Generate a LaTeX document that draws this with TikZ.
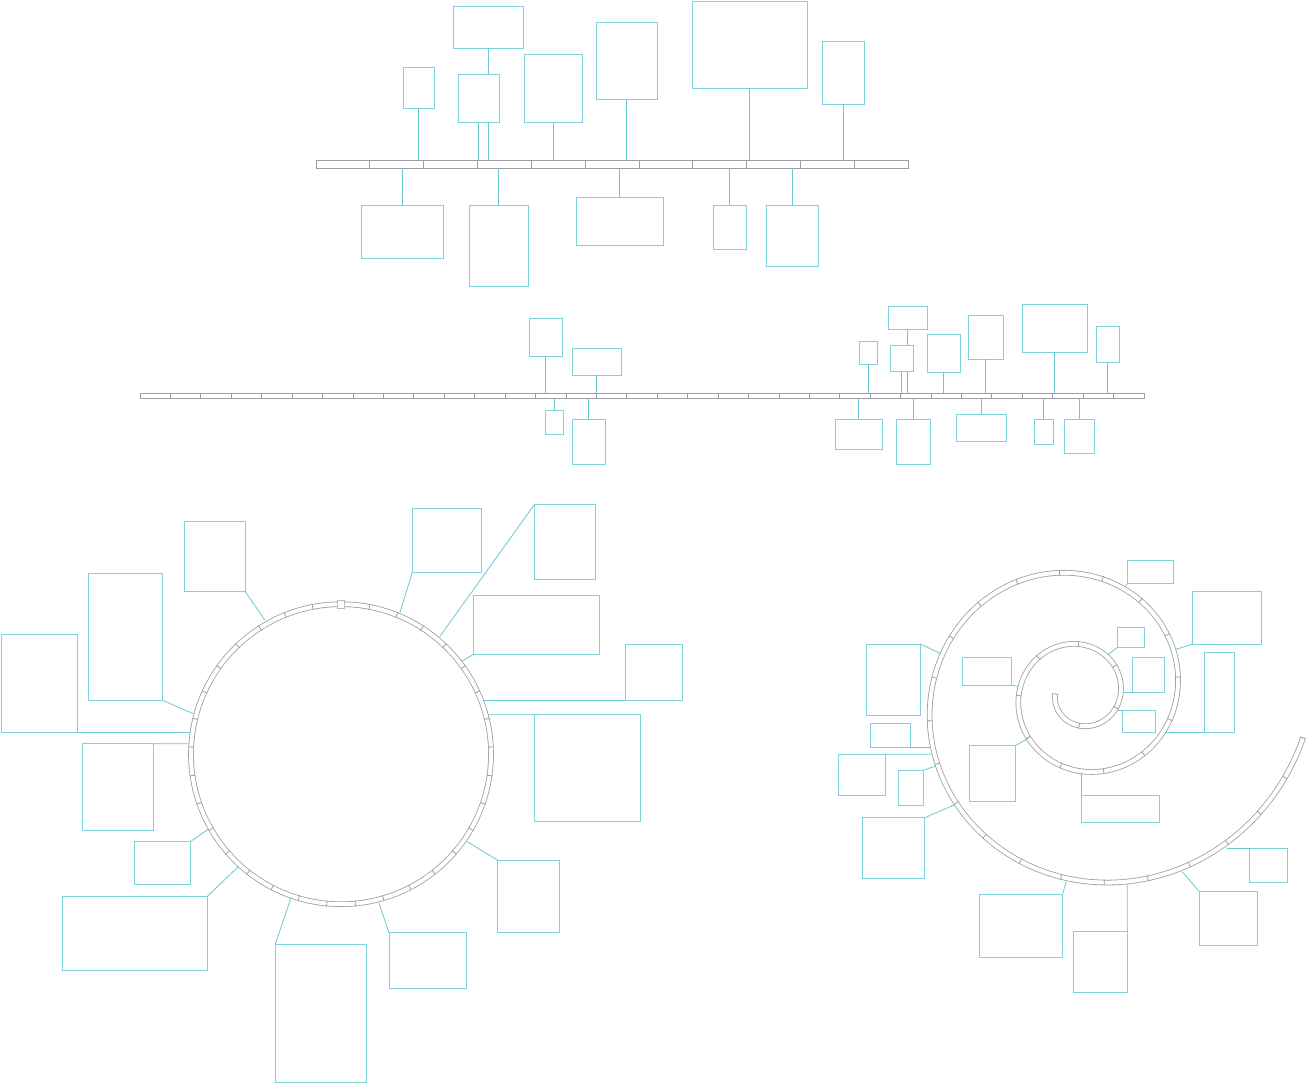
\documentclass[tikz,border=0pt]{standalone}
\usetikzlibrary{fit}
\definecolor{cy}{RGB}{128,211,220}
\definecolor{cyc}{RGB}{104,200,211}
\definecolor{rg}{RGB}{158,158,158}
\tikzset{
  box/.style={draw=cy, line width=0.7pt, inner sep=0pt, outer sep=0pt},
  conn/.style={draw=cyc, line width=0.6pt},
  seg/.style={draw=rg, line width=0.6pt, fill=white},
  ring/.style={draw=rg, line width=0.6pt, double=white, double distance=3pt},
  tickline/.style={draw=rg, line width=0.6pt},
  anchorbox/.style={inner sep=0pt, outer sep=0pt},
}
\newcommand\bx[5]{\node[box, fit={(#2,#3) (#4,#5)}] (#1) {};}
\begin{document}
\begin{tikzpicture}[x=0.75pt,y=-0.75pt]
\useasboundingbox (0,0) rectangle (1308,1084);

% ---------------- top timeline ----------------
\foreach \i in {0,...,10} \draw[seg] ({316+\i*53.8182},160) rectangle ({316+(\i+1)*53.8182},168);
\node[anchorbox, fit={(316,160) (908,168)}] (barA) {};
\bx{a1}{403}{67}{434}{108}
\bx{a2}{453}{6}{523}{48}
\bx{a3}{458}{74}{499}{122}
\bx{a4}{524}{54}{582}{122}
\bx{a5}{596}{22}{657}{99}
\bx{a6}{692}{1}{807}{88}
\bx{a7}{822}{41}{864}{104}
\bx{a8}{361}{205}{443}{258}
\bx{a9}{469}{205}{528}{286}
\bx{a10}{576}{197}{663}{245}
\bx{a11}{713}{205}{746}{249}
\bx{a12}{766}{205}{818}{266}
\foreach \n in {a1,a4,a5,a6,a7,a3} \draw[conn] (\n.south) -- (\n.south |- barA.north);
\draw[conn] (a2.south) -- (a2.south |- a3.north);
\draw[conn] (a2.south |- a3.south) -- (a2.south |- barA.north);
\foreach \n in {a8,a9,a10,a11,a12} \draw[conn] (\n.north) -- (\n.north |- barA.south);

% ---------------- second timeline ----------------
\foreach \i in {0,...,32} \draw[seg] ({140+\i*30.4242},393) rectangle ({140+(\i+1)*30.4242},398);
\node[anchorbox, fit={(140,393) (1144,398)}] (barB) {};
\bx{b1}{529}{318}{562}{356}
\bx{b2}{572}{348}{621}{375}
\bx{b3}{888}{306}{927}{329}
\bx{b4}{890}{345}{913}{371}
\bx{b5}{859}{341}{877}{364}
\bx{b6}{927}{334}{960}{372}
\bx{b7}{968}{315}{1003}{359}
\bx{b8}{1022}{304}{1087}{352}
\bx{b9}{1096}{326}{1119}{362}
\bx{b10}{545}{410}{563}{434}
\bx{b11}{572}{419}{605}{464}
\bx{b12}{835}{419}{882}{449}
\bx{b13}{896}{419}{930}{464}
\bx{b14}{956}{414}{1006}{441}
\bx{b15}{1034}{419}{1053}{444}
\bx{b16}{1064}{419}{1094}{453}
\foreach \n in {b1,b2,b4,b5,b6,b7,b8,b9} \draw[conn] (\n.south) -- (\n.south |- barB.north);
\draw[conn] (b3.south) -- (b3.south |- b4.north);
\draw[conn] (b3.south |- b4.south) -- (b3.south |- barB.north);
\foreach \n in {b10,b11,b12,b13,b14,b15,b16} \draw[conn] (\n.north) -- (\n.north |- barB.south);

% ---------------- circle ----------------
\coordinate (cc) at (341,754.2);
\draw[ring] (cc) circle[radius=112.5pt];
\foreach \k in {1,...,32} \draw[tickline] (cc) ++({90-\k*10.90909}:110.4pt) -- ++({90-\k*10.90909}:4.2pt);
\node[draw=rg!70, fill=white, line width=0.5pt, minimum width=5pt, minimum height=6pt, inner sep=0pt] (c0) at ([shift={(90:112.5pt)}]cc) {};
\bx{c1}{184}{521}{245}{591}
\bx{c2}{88}{573}{162.7}{700.3}
\bx{c3}{1}{634.7}{77.3}{732.3}
\bx{c4}{82}{743.7}{153.7}{830.3}
\bx{c5}{134.3}{841.3}{190.7}{884.3}
\bx{c6}{62}{896.3}{207.3}{970.3}
\bx{c7}{275.3}{944.3}{366}{1082}
\bx{c8}{389}{932.7}{466}{988}
\bx{c9}{497.7}{860.3}{559}{932.3}
\bx{c10}{534.3}{714.7}{640.7}{821.3}
\bx{c11}{625.3}{644.7}{682.7}{700.3}
\bx{c12}{473.7}{595.7}{599}{654.3}
\bx{c13}{534.3}{504.7}{595}{579.3}
\bx{c14}{412.3}{508.7}{481}{572.3}
\coordinate (cr1) at (264.7,620);
\coordinate (cr2) at (193.3,713.7);
\coordinate (cr3) at (190,732.3);
\coordinate (cr4) at (188.5,743.7);
\coordinate (cr5) at (208.3,829.3);
\coordinate (cr6) at (238.3,866.7);
\coordinate (cr7) at (291,897.7);
\coordinate (cr8) at (379,903.3);
\coordinate (cr9) at (467.3,841.7);
\coordinate (cr10) at (488.7,714.7);
\coordinate (cr11) at (484,700.3);
\coordinate (cr12) at (462.3,660.7);
\coordinate (cr13) at (439.7,636.7);
\coordinate (cr14) at (400,612.3);
\draw[conn] (c1.south east) -- (cr1);
\draw[conn] (c2.south east) -- (cr2);
\draw[conn] (c3.south east) -- (cr3);
\draw[conn] (c4.north east) -- (cr4);
\draw[conn] (c5.north east) -- (cr5);
\draw[conn] (c6.north east) -- (cr6);
\draw[conn] (c7.north west) -- (cr7);
\draw[conn] (c8.north west) -- (cr8);
\draw[conn] (c9.north west) -- (cr9);
\draw[conn] (c10.north west) -- (cr10);
\draw[conn] (c11.south west) -- (cr11);
\draw[conn] (c12.south west) -- (cr12);
\draw[conn] (c13.north west) -- (cr13);
\draw[conn] (c14.south west) -- (cr14);

% ---------------- spiral ----------------
\coordinate (sc) at (1080.8,694);
\draw[ring] plot[domain=180:1068.8, samples=240, smooth, variable=\q]
  ({1080.8+25.6*exp(0.14053*(\q-180)*0.0174533)*cos(\q)},{694-25.6*exp(0.14053*(\q-180)*0.0174533)*sin(\q)});
\foreach \k in {0,...,33} {
  \pgfmathsetmacro\spR{25.6+\k*6.08788}
  \pgfmathsetmacro\spA{180+ln(\spR/25.6)*407.71}
  \draw[tickline] ({1080.8+\spR*cos(\spA)},{694-\spR*sin(\spA)}) ++(\spA+172:2.1pt) -- ++(\spA-8:4.2pt);
}
\bx{s1}{866}{644}{920.3}{715}
\bx{s2}{962.7}{657.7}{1011.7}{685}
\bx{s3}{870.3}{723.3}{910.3}{747.7}
\bx{s4}{838.7}{754.3}{885}{795.7}
\bx{s5}{898.7}{770}{923.7}{805}
\bx{s6}{862.7}{817.7}{924.7}{878}
\bx{s7}{969.3}{745.7}{1015.3}{801}
\bx{s8}{1081.7}{795.7}{1159}{822}
\bx{s9}{979}{894}{1062.7}{957.7}
\bx{s10}{1073.7}{931.3}{1127.3}{992}
\bx{s11}{1199}{891.3}{1257}{945}
\bx{s12}{1249.7}{848}{1287}{882.7}
\bx{s13}{1127.3}{560}{1173}{583.7}
\bx{s14}{1192.7}{591.7}{1261.7}{644}
\bx{s15}{1117}{627.3}{1144.3}{647.7}
\bx{s16}{1132.7}{657.7}{1164.3}{692.3}
\bx{s17}{1122.7}{710.3}{1155}{732.3}
\bx{s18}{1204.3}{652.3}{1234.3}{732.7}
\coordinate (sr1) at (940,653.3);
\coordinate (sr2) at (1018.3,686.7);
\coordinate (sr3) at (930,747.7);
\coordinate (sr4) at (931.7,754.3);
\coordinate (sr5) at (936,766);
\coordinate (sr6) at (954,805);
\coordinate (sr7) at (1028.3,738.3);
\coordinate (sr8) at (1081.7,774);
\coordinate (sr9) at (1066,881.7);
\coordinate (sr10) at (1127.3,884);
\coordinate (sr11) at (1182.3,871.7);
\coordinate (sr12) at (1226.7,848);
\coordinate (sr13) at (1125.7,586);
\coordinate (sr14) at (1176,649.3);
\coordinate (sr15) at (1107.7,655);
\coordinate (sr16) at (1122.7,692.3);
\coordinate (sr17) at (1117.3,710.3);
\coordinate (sr18) at (1166,732.7);
\draw[conn] (s1.north east) -- (sr1);
\draw[conn] (s2.south east) -- (sr2);
\draw[conn] (s3.south east) -- (sr3);
\draw[conn] (s4.north east) -- (sr4);
\draw[conn] (s5.north east) -- (sr5);
\draw[conn] (s6.north east) -- (sr6);
\draw[conn] (s7.north east) -- (sr7);
\draw[conn] (s8.north west) -- (sr8);
\draw[conn] (s9.north east) -- (sr9);
\draw[conn] (s10.north east) -- (sr10);
\draw[conn] (s11.north west) -- (sr11);
\draw[conn] (s12.north west) -- (sr12);
\draw[conn] (s13.south west) -- (sr13);
\draw[conn] (s14.south west) -- (sr14);
\draw[conn] (s15.south west) -- (sr15);
\draw[conn] (s16.south west) -- (sr16);
\draw[conn] (s17.north west) -- (sr17);
\draw[conn] (s18.south west) -- (sr18);
\end{tikzpicture}
\end{document}
